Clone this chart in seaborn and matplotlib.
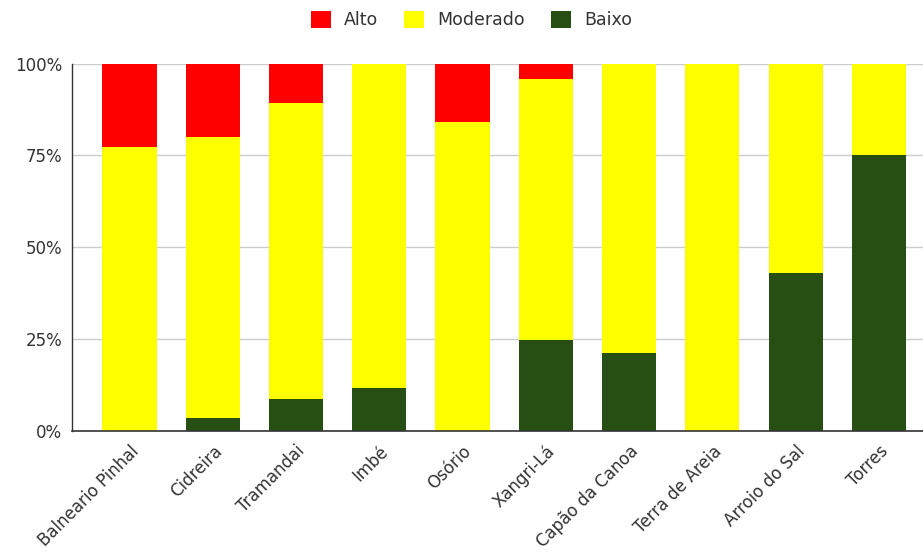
import numpy as np
import pandas as pd
import matplotlib
matplotlib.use("Agg")
import matplotlib.pyplot as plt
from matplotlib.patches import Patch
from matplotlib.ticker import FuncFormatter
import seaborn as sns

cidades = ["Balneario Pinhal", "Cidreira", "Tramandai", "Imbé", "Osório",
           "Xangri-Lá", "Capão da Canoa", "Terra de Areia", "Arroio do Sal", "Torres"]
baixo = [0.0, 3.6, 8.6, 11.7, 0.0, 24.7, 21.1, 0.0, 43.1, 75.2]
moderado = [77.4, 76.5, 80.6, 88.3, 84.2, 71.1, 78.9, 100.0, 56.9, 24.8]
alto = [22.6, 19.9, 10.8, 0.0, 15.8, 4.2, 0.0, 0.0, 0.0, 0.0]
series = ["Alto", "Moderado", "Baixo"]
cores = {"Alto": "#ff0000", "Moderado": "#ffff00", "Baixo": "#274e13"}

df = pd.DataFrame({"cidade": cidades, "Baixo": baixo, "Moderado": moderado, "Alto": alto})
df["cum_baixo"] = df["Baixo"]
df["cum_mod"] = df["Baixo"] + df["Moderado"]
df["cum_alto"] = df["cum_mod"] + df["Alto"]

sns.set_theme(style="white")
plt.rcParams["font.family"] = ["DejaVu Sans"]

fig = plt.figure(figsize=(9.23, 5.6), dpi=100)
ax = fig.add_axes([0.078, 0.2304, 0.922, 0.656])

for col, serie in [("cum_alto", "Alto"), ("cum_mod", "Moderado"), ("cum_baixo", "Baixo")]:
    sns.barplot(data=df, x="cidade", y=col, color=cores[serie], width=0.65,
                saturation=1, ax=ax, linewidth=0, errorbar=None, zorder=2)

ax.set_ylim(0, 100)
ax.set_xlim(-0.69, 9.53)
ax.set_yticks([0, 25, 50, 75, 100])
ax.yaxis.set_major_formatter(FuncFormatter(lambda v, p: f"{int(v)}%"))
ax.set_xlabel("")
ax.set_ylabel("")
ax.grid(axis="y", color="#cccccc", linewidth=1, zorder=0)
ax.set_axisbelow(True)
for s in ["top", "right"]:
    ax.spines[s].set_visible(False)
ax.spines["left"].set_color("#333333")
ax.spines["left"].set_linewidth(1.0)
ax.spines["bottom"].set_color("#333333")
ax.spines["bottom"].set_linewidth(1.2)
ax.tick_params(axis="y", length=0, pad=7, labelsize=12, labelcolor="#333333")
ax.tick_params(axis="x", length=0, pad=8, labelsize=12, labelcolor="#333333")
for lbl in ax.get_xticklabels():
    lbl.set_rotation(45)
    lbl.set_ha("right")
    lbl.set_rotation_mode("anchor")

handles = [Patch(facecolor=cores[s], edgecolor="none", label=s) for s in series]
fig.legend(handles=handles, loc="center", bbox_to_anchor=(471.5 / 923, 1 - 20 / 560),
           ncol=3, frameon=False, fontsize=12.5, handlelength=1.15, handleheight=1.15,
           handletextpad=0.75, columnspacing=1.5, labelcolor="#333333")

fig.savefig("out.png", dpi=100)
